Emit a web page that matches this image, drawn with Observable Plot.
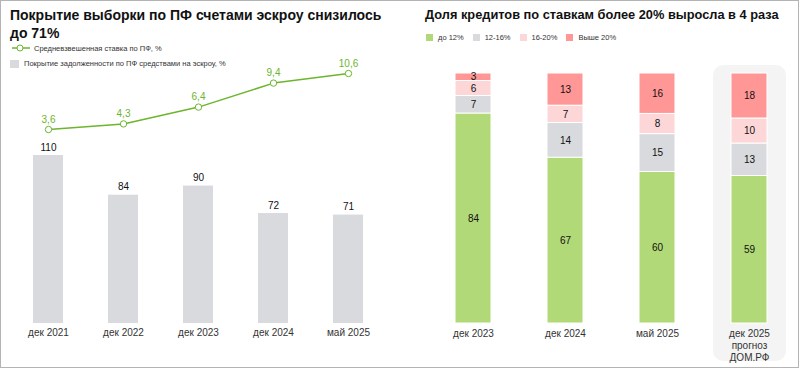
<!DOCTYPE html>
<html>
<head>
<meta charset="utf-8">
<script src="https://cdn.jsdelivr.net/npm/d3@7"></script>
<script src="https://cdn.jsdelivr.net/npm/@observablehq/plot@0.6"></script>
<style>
  body { margin: 0; background: #fff; font-family: "Liberation Sans", Arial, sans-serif; }
  #frame { position: relative; width: 799px; height: 368px; box-sizing: border-box; border: 1px solid #b4b4b4; overflow: hidden; background: #fff; }
  .title { position: absolute; font-weight: bold; font-size: 14px; line-height: 18px; color: #111; white-space: nowrap; }
  .leg { position: absolute; font-size: 7.5px; color: #333; display: flex; align-items: center; white-space: nowrap; }
  .abs { position: absolute; left: 0; top: 0; }
</style>
</head>
<body>
<div id="frame">
  <div class="title" style="left:9px; top:5px;">Покрытие выборки по ПФ счетами эскроу снизилось<br>до 71%</div>
  <div class="title" style="left:424px; top:5px; font-size:12.8px;">Доля кредитов по ставкам более 20% выросла в 4 раза</div>
  <div class="leg" style="left:10px; top:42px;">
    <svg width="20" height="10" style="margin-right:3px"><line x1="1" y1="5" x2="19" y2="5" stroke="#6cb52d" stroke-width="1.5"/><circle cx="9" cy="5" r="3" fill="#fff" stroke="#6cb52d" stroke-width="1"/></svg>
    Средневзвешенная ставка по ПФ, %
  </div>
  <div class="leg" style="left:9px; top:58px;">
    <span style="display:inline-block;width:9px;height:8px;background:#d9dadd;margin-right:5px"></span>
    Покрытие задолженности по ПФ средствами на эскроу, %
  </div>
  <div class="leg" id="rleg" style="left:425px; top:32px; font-size:7.5px;"></div>
  <div id="left"></div>
  <div id="right"></div>
</div>
<script>
// ---- Left panel data ----
const periodsL = ["дек 2021", "дек 2022", "дек 2023", "дек 2024", "май 2025"];
const coverage = [110, 84, 90, 72, 71];
const rate = [3.6, 4.3, 6.4, 9.4, 10.6];

// ---- Right panel data ----
const periodsR = ["дек 2023", "дек 2024", "май 2025", "дек 2025\nпрогноз\nДОМ.РФ"];
const rateBuckets = ["до 12%", "12-16%", "16-20%", "Выше 20%"];
const bucketColors = ["#b2d977", "#d9dadd", "#fdd6d8", "#ff9797"];
const shareUpTo12 = [84, 67, 60, 59];
const share12to16 = [7, 14, 15, 13];
const share16to20 = [6, 7, 8, 10];
const shareOver20 = [3, 13, 16, 18];

const barsL = periodsL.map((p, i) => ({period: p, value: coverage[i]}));
const lineL = periodsL.map((p, i) => ({period: p, value: rate[i]}));
const seriesR = [shareUpTo12, share12to16, share16to20, shareOver20];
const stackR = [];
rateBuckets.forEach((b, j) => periodsR.forEach((p, i) => stackR.push({period: p, bucket: b, value: seriesR[j][i]})));

const fmt = v => String(v).replace(".", ",");
const font = "Liberation Sans, Arial, sans-serif";
const baseStyle = {background: "transparent", overflow: "visible", fontFamily: font, fontSize: "10px", color: "#222"};

const xL = {domain: periodsL, paddingInner: 0.6, paddingOuter: 0.3, label: null};

const leftBars = Plot.plot({
  width: 400, height: 369,
  marginLeft: 9.5, marginRight: 15.5, marginTop: 154, marginBottom: 47,
  style: baseStyle,
  x: xL,
  y: {domain: [0, 110], axis: null},
  marks: [
    Plot.barY(barsL, {x: "period", y: "value", fill: "#d9dadd"}),
    Plot.text(barsL, {x: "period", y: "value", text: d => fmt(d.value), dy: -8, fill: "#111", fontSize: 10}),
    Plot.axisX({tickSize: 0, tickPadding: 5, fontSize: 10, color: "#333"})
  ]
});
leftBars.classList.add("abs");

const leftLine = Plot.plot({
  width: 400, height: 369,
  marginLeft: 9.5, marginRight: 15.5, marginTop: 72, marginBottom: 241,
  style: baseStyle,
  x: {...xL, axis: null},
  y: {domain: [3.6, 10.6], axis: null},
  marks: [
    Plot.line(lineL, {x: "period", y: "value", stroke: "#6cb52d", strokeWidth: 1.5}),
    Plot.dot(lineL, {x: "period", y: "value", r: 3.2, fill: "#fff", stroke: "#6cb52d", strokeWidth: 1}),
    Plot.text(lineL, {x: "period", y: "value", text: d => fmt(d.value), dy: -10, fill: "#6cb52d", fontSize: 10})
  ]
});
leftLine.classList.add("abs");
document.getElementById("left").append(leftBars, leftLine);

const right = Plot.plot({
  width: 400, height: 369,
  marginLeft: 25, marginRight: 5, marginTop: 72, marginBottom: 47,
  style: baseStyle,
  x: {domain: periodsR, paddingInner: 0.61, paddingOuter: 0.3, label: null},
  y: {domain: [0, 1], axis: null},
  color: {domain: rateBuckets, range: bucketColors},
  marks: [
    Plot.barY([periodsR[3]], {x: d => d, y1: 0, y2: 1, fill: "#f4f4f4", rx: 10,
      insetLeft: -18, insetRight: -19, insetTop: -8, insetBottom: -38}),
    Plot.barY(stackR, Plot.stackY({x: "period", y: "value", z: "bucket", fill: "bucket", offset: "normalize", order: null, stroke: "#fff", strokeWidth: 1})),
    Plot.text(stackR, Plot.stackY({x: "period", y: "value", z: "bucket", offset: "normalize", order: null, text: d => String(d.value), fill: "#111", fontSize: 10})),
    Plot.axisX({tickSize: 0, tickPadding: 5, fontSize: 10, color: "#333", lineHeight: 1.2})
  ]
});
right.classList.add("abs");
right.style.left = "400px";
document.getElementById("right").append(right);

// right legend
const rleg = document.getElementById("rleg");
rateBuckets.forEach((b, i) => {
  const sw = document.createElement("span");
  sw.style.cssText = `display:inline-block;width:7px;height:7px;background:${bucketColors[i]};margin-right:5px;margin-left:${i ? 9 : 0}px`;
  const t = document.createElement("span");
  t.textContent = b;
  rleg.append(sw, t);
});
</script>
</body>
</html>
